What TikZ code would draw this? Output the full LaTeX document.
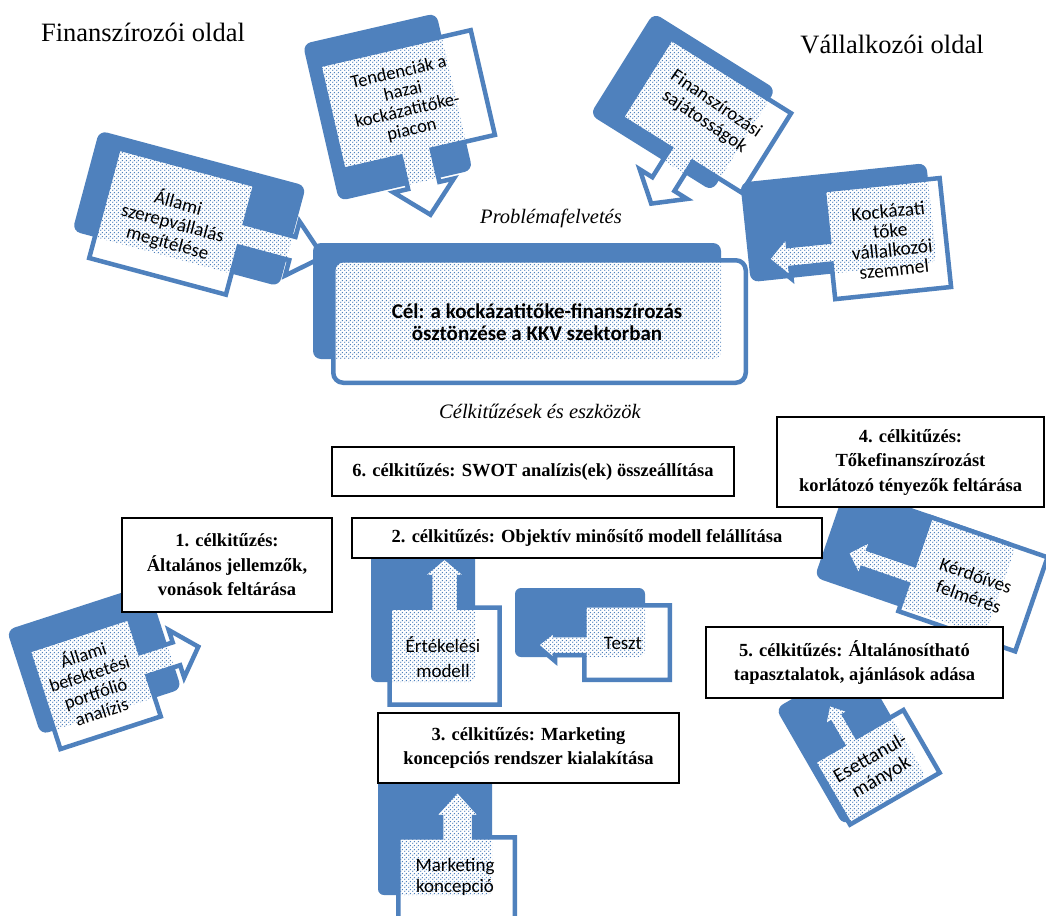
\documentclass[tikz,border=0pt]{standalone}
\usepackage{fontspec}
\setmainfont{Liberation Serif}
\newfontfamily\calib{Carlito}
\usetikzlibrary{patterns.meta}
\definecolor{cblue}{HTML}{4F81BD}
\tikzdeclarepattern{
  name=sdots,
  type=uncolored,
  bounding box={(0pt,0pt) and (4pt,4pt)},
  tile size={(4pt,4pt)},
  code={
    \fill (1pt,1pt) circle[radius=0.85pt];
    \fill (3pt,3pt) circle[radius=0.85pt];
  }
}
\newcommand\mycallout[4][0pt]{%
  \fill[cblue, rounded corners=#4] #2;
  \fill[white, rounded corners=#1] #3;
  \begin{scope}
    \clip[rounded corners=#1] #3;
    \fill[pattern=sdots, pattern color=cblue, rounded corners=#4] #2;
  \end{scope}
  \draw[cblue, line width=4.5pt, rounded corners=#1] #3;
}
\begin{document}
\begin{tikzpicture}[x=1pt,y=-1pt,
  lbl/.style={align=center, inner sep=0pt, font=\calib\fontsize{19}{21}\selectfont},
  goal/.style={draw=black, line width=2pt, fill=white, align=center, inner sep=0pt,
     font=\bfseries\fontsize{18.5}{24.5}\selectfont},
  side/.style={inner sep=0pt, font=\fontsize{26.5}{30}\selectfont},
  ital/.style={inner sep=0pt, font=\itshape\fontsize{20.5}{24}\selectfont}]
\useasboundingbox (0,0) rectangle (1046,915);
\fill[white] (0,0) rectangle (1046,915);

\node[side] (tfin) at (143,32) {Finanszírozói oldal};
\node[side] (tval) at (892,44) {Vállalkozói oldal};
\node[ital] (tprob) at (551,218) {Problémafelvetés};
\node[ital] (tcel) at (540,411) {Célkitűzések és eszközök};

% E: Allami szerepvallalas
\begin{scope}[shift={(195,210)}, rotate=-15]
\mycallout{(-113,-52) rectangle (101,52)}{(-89.75,-39.75) -- (51.75,-39.75) -- (51.75,0) -- (104,0) -- (104,-16) -- (136,12) -- (104,40) -- (104,24) -- (51.75,24) -- (51.75,73.75) -- (-89.75,73.75) -- cycle}{8}
\node[lbl, transform shape, font=\calib\fontsize{19}{20.5}\selectfont] (tE) at (-18,18) {Állami\\szerepvállalás\\megítélése};
\end{scope}

% C: Tendenciak
\begin{scope}[shift={(395,110)}, rotate=13]
\mycallout{(-75,-85) rectangle (62,76)}{(-63.75,-60.75) -- (91.75,-60.75) -- (91.75,46.75) -- (27,46.75) -- (27,80) -- (42,80) -- (11,110) -- (-20,80) -- (-5,80) -- (-5,46.75) -- (-63.75,46.75) -- cycle}{8}
\node[lbl, transform shape, font=\calib\fontsize{18.5}{19.5}\selectfont] (tC) at (12,-6) {Tendenciák a\\hazai\\kockázatitőke-\\piacon};
\end{scope}

% D: Finanszirozasi sajatossagok
\begin{scope}[shift={(692,110)}, rotate=-32]
\mycallout{(-84,-62) rectangle (60,58)}{(-55.75,-49.75) -- (85.75,-49.75) -- (85.75,43.75) -- (28,43.75) -- (28,78) -- (43,78) -- (15,101) -- (-13,78) -- (2,78) -- (2,43.75) -- (-55.75,43.75) -- cycle}{8}
\node[lbl, transform shape, rotate=-2] (tD) at (17,-7) {Finanszírozási\\sajátosságok};
\end{scope}

% K: central box
\mycallout[10pt]{(313,243) rectangle (721,359)}{(333.25,260.25) rectangle (745.75,382.75)}{8}
\node[lbl, font=\calib\bfseries\fontsize{21}{21.5}\selectfont] (tK) at (537,322) {Cél: a kockázatitőke-finanszírozás\\ösztönzése a KKV szektorban};

% F: Kockazati toke
\begin{scope}[shift={(845,232)}, rotate=6]
\mycallout{(-99,-60) rectangle (88,40)}{(-16.75,-43.75) -- (99.75,-43.75) -- (99.75,65.75) -- (-16.75,65.75) -- (-16.75,30) -- (-58,30) -- (-58,41) -- (-80,19) -- (-58,-3) -- (-58,8) -- (-16.75,8) -- cycle}{8}
\node[lbl, transform shape, font=\calib\fontsize{19.5}{19.5}\selectfont] (tF) at (45,13) {Kockázati\\tőke\\vállalkozói\\szemmel};
\end{scope}

% G: Allami befektetesi
\begin{scope}[shift={(95,675)}, rotate=18]
\mycallout{(-70,-70) rectangle (78,40)}{(-55.75,-43.75) -- (49.75,-43.75) -- (49.75,-7) -- (84,-7) -- (84,-20) -- (107,5) -- (84,30) -- (84,17) -- (49.75,17) -- (49.75,59.75) -- (-55.75,59.75) -- cycle}{8}
\node[lbl, transform shape, font=\calib\fontsize{18.5}{20}\selectfont] (tG) at (-5,6) {Állami\\befektetési\\portfólió\\analízis};
\end{scope}

% A: Ertekelesi modell
\mycallout{(371,545) rectangle (475,682)}{(389.5,607.5) -- (430,607.5) -- (430,577) -- (420.5,577) -- (444.5,557) -- (468.5,577) -- (459,577) -- (459,607.5) -- (499.5,607.5) -- (499.5,704.5) -- (389.5,704.5) -- cycle}{6}
\node[lbl, font=\calib\fontsize{19}{25}\selectfont] (tA) at (443,657) {Értékelési\\modell};

% B: Teszt
\mycallout{(515,588) rectangle (645,657)}{(584.25,605.25) -- (669.75,605.25) -- (669.75,679.75) -- (584.25,679.75) -- (584.25,655) -- (555,655) -- (555,661) -- (536,645) -- (555,630) -- (555,635) -- (584.25,635) -- cycle}{6}
\node[lbl] (tB) at (623,643) {Teszt};

% H: Kerdoives felmeres
\begin{scope}[shift={(930,580)}, rotate=-19]
\mycallout{(-110,-62) rectangle (70,35)}{(-19.75,-59.75) -- (103.75,-59.75) -- (103.75,39.75) -- (-19.75,39.75) -- (-19.75,11) -- (-68,11) -- (-68,21) -- (-88,1) -- (-68,-20) -- (-68,-9) -- (-19.75,-9) -- cycle}{8}
\node[lbl, transform shape, font=\calib\fontsize{19}{22}\selectfont] (tH) at (42,-8) {Kérdőíves\\felmérés};
\end{scope}

% I: Esettanulmanyok
\begin{scope}[shift={(865,755)}, rotate=30]
\mycallout{(-54,-85) rectangle (42,50)}{(-47.75,-19.75) -- (-14,-19.75) -- (-14,-45) -- (-22,-45) -- (-6,-63) -- (10,-45) -- (2,-45) -- (2,-19.75) -- (55.75,-19.75) -- (55.75,52.75) -- (-47.75,52.75) -- cycle}{8}
\node[lbl, transform shape, font=\calib\fontsize{20}{22}\selectfont] (tI) at (3,17) {Esettanul-\\mányok};
\end{scope}

% J: Marketing koncepcio
\mycallout{(378,770) rectangle (492,895)}{(398.25,837.25) -- (441,837.25) -- (441,817) -- (433,817) -- (457.5,790) -- (482,817) -- (474,817) -- (474,837.25) -- (514.75,837.25) -- (514.75,935) -- (398.25,935) -- cycle}{6}
\node[lbl, font=\calib\fontsize{19}{21}\selectfont] (tJ) at (455,877) {Marketing\\koncepció};

% goal boxes
\node[goal, minimum width=402pt, minimum height=49pt] (g6) at (533,471.5) {6. célkitűzés: SWOT analízis(ek) összeállítása};
\node[goal, minimum width=267pt, minimum height=90pt] (g4) at (910.5,462) {4. célkitűzés:\\Tőkefinanszírozást\\korlátozó tényezők feltárása};
\node[goal, minimum width=210pt, minimum height=94pt] (g1) at (227,565) {1. célkitűzés:\\Általános jellemzők,\\vonások feltárása};
\node[goal, minimum width=470pt, minimum height=40pt] (g2) at (587,538) {2. célkitűzés: Objektív minősítő modell felállítása};
\node[goal, minimum width=297pt, minimum height=71pt] (g5) at (854.5,662.5) {5. célkitűzés: Általánosítható\\tapasztalatok, ajánlások adása};
\node[goal, minimum width=301pt, minimum height=70pt] (g3) at (528.5,748) {3. célkitűzés: Marketing\\koncepciós rendszer kialakítása};
\end{tikzpicture}
\end{document}
